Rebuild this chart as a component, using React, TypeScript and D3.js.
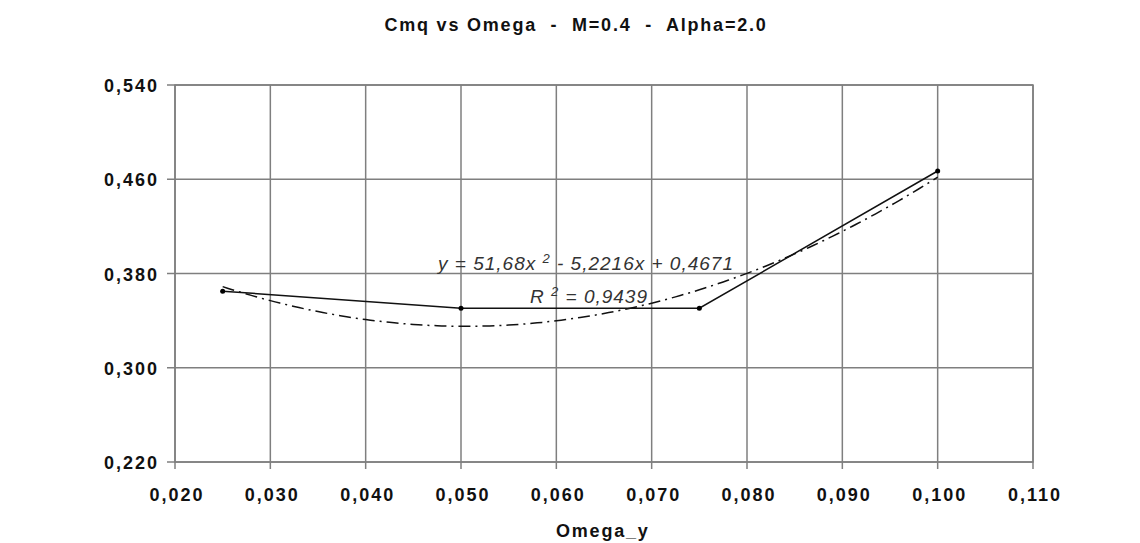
import React from "react";
import * as d3 from "d3";

const omega = [0.025, 0.05, 0.075, 0.1];
const cmq = [0.365, 0.3505, 0.3505, 0.467];
const trendCoeffs = [51.68, -5.2216, 0.4671]; // a, b, c of y = a x^2 + b x + c
const xTicks = [0.02, 0.03, 0.04, 0.05, 0.06, 0.07, 0.08, 0.09, 0.1, 0.11];
const yTicks = [0.22, 0.3, 0.38, 0.46, 0.54];

const W = 1140, H = 543;
const L = 175, R = 1033, T = 85, B = 462;

export default function App() {
  const x = d3.scaleLinear().domain([0.02, 0.11]).range([L, R]);
  const y = d3.scaleLinear().domain([0.22, 0.54]).range([B, T]);
  const fmt = (v: number) => v.toFixed(3).replace(".", ",");
  const line = d3.line<[number, number]>().x(d => x(d[0])).y(d => y(d[1]));
  const dataPts: [number, number][] = omega.map((o, i) => [o, cmq[i]]);
  const [a, b, c] = trendCoeffs;
  const trendPts: [number, number][] = d3.range(omega[0], omega[omega.length - 1] + 1e-9, 0.0005).map(v => [v, a * v * v + b * v + c]);
  const grid = "#7f7f7f";
  const font = "'Liberation Sans', Arial, sans-serif";
  return (
    <svg width={W} height={H} style={{ position: "absolute", left: 0, top: 0, background: "#fff" }}>
      <text x={576} y={31} textAnchor="middle" fontFamily={font} fontWeight="bold" fontSize={18} letterSpacing={1.8} fill="#111" style={{ whiteSpace: "pre" }}>{"Cmq vs Omega  -  M=0.4  -  Alpha=2.0"}</text>
      {xTicks.map(t => (
        <g key={"x" + t}>
          <line x1={x(t)} x2={x(t)} y1={T} y2={B + 7} stroke={grid} strokeWidth={1.5} />
          <text x={x(t) + 2} y={501} textAnchor="middle" fontFamily={font} fontWeight="bold" fontSize={18} letterSpacing={2} fill="#111">{fmt(t)}</text>
        </g>
      ))}
      {yTicks.map(t => (
        <g key={"y" + t}>
          <line x1={L - 8} x2={R} y1={y(t)} y2={y(t)} stroke={grid} strokeWidth={1.5} />
          <text x={159} y={y(t) + 7} textAnchor="end" fontFamily={font} fontWeight="bold" fontSize={18} letterSpacing={2} fill="#111">{fmt(t)}</text>
        </g>
      ))}
      <rect x={L} y={T} width={R - L} height={B - T} fill="none" stroke={grid} strokeWidth={1.5} />
      <path d={line(trendPts) || ""} fill="none" stroke="#111" strokeWidth={1.5} strokeDasharray="12 5 2 5" />
      <path d={line(dataPts) || ""} fill="none" stroke="#111" strokeWidth={1.5} />
      {dataPts.map((p, i) => (
        <circle key={i} cx={x(p[0])} cy={y(p[1])} r={2.5} fill="#000" />
      ))}
      <text x={438} y={270} fontFamily={font} fontStyle="italic" fontSize={19} letterSpacing={1} fill="#333" style={{ whiteSpace: "pre" }}>
        {"y = 51,68x "}<tspan dy={-7} fontSize={13}>2</tspan><tspan dy={7}>{" - 5,2216x + 0,4671"}</tspan>
      </text>
      <text x={530} y={303} fontFamily={font} fontStyle="italic" fontSize={19} letterSpacing={1} fill="#333" style={{ whiteSpace: "pre" }}>
        {"R "}<tspan dy={-7} fontSize={13}>2</tspan><tspan dy={7}>{" = 0,9439"}</tspan>
      </text>
      <text x={556} y={537} textAnchor="start" fontFamily={font} fontWeight="bold" fontSize={18} letterSpacing={1.8} fill="#111">Omega_y</text>
    </svg>
  );
}
